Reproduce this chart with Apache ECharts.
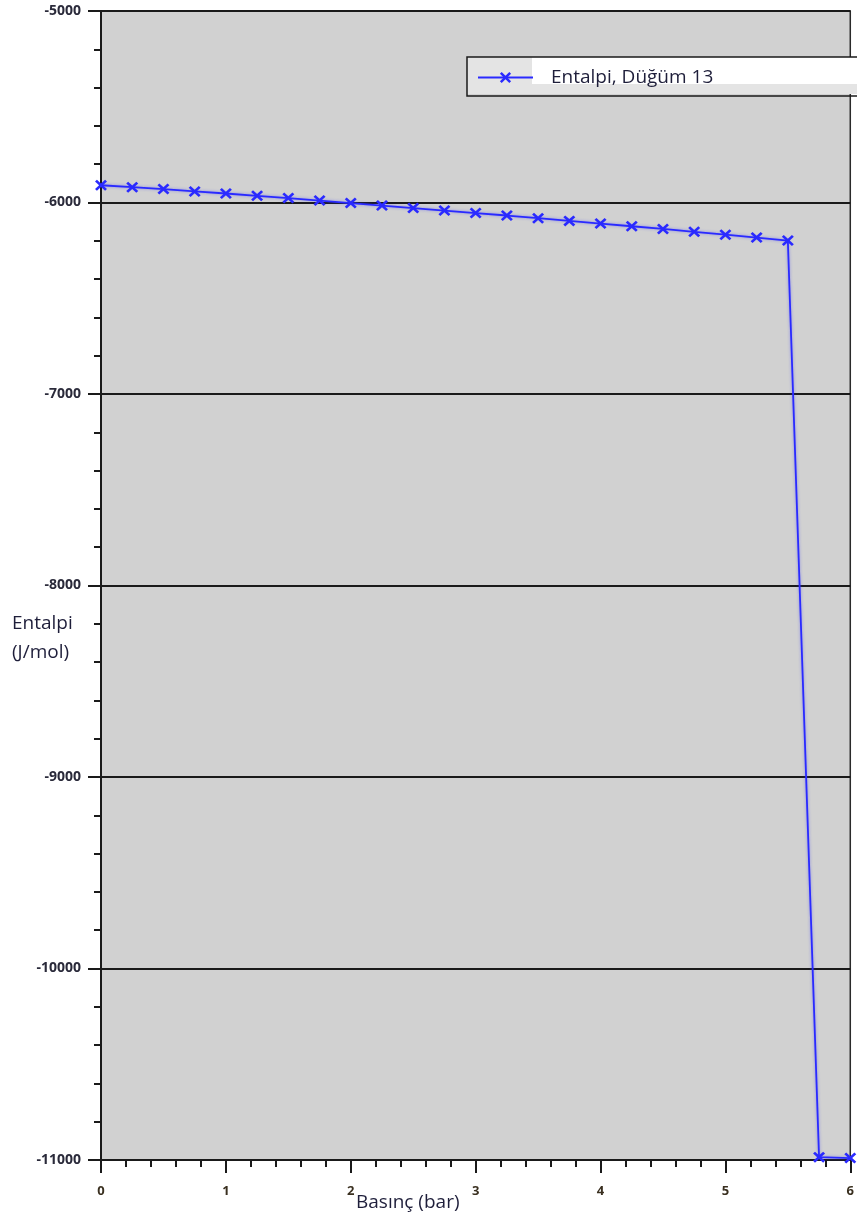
<!DOCTYPE html>
<html>
<head>
<meta charset="utf-8">
<script src="https://cdn.jsdelivr.net/npm/echarts@6/dist/echarts.min.js"></script>
<style>
  html, body { margin: 0; padding: 0; background: #ffffff; }
  #chart { width: 857px; height: 1225px; }
</style>
</head>
<body>
<div id="chart"></div>
<script>
// Pressure (bar) and enthalpy (J/mol) of node 13
const pressure = [0, 0.25, 0.5, 0.75, 1, 1.25, 1.5, 1.75, 2, 2.25, 2.5, 2.75,
                  3, 3.25, 3.5, 3.75, 4, 4.25, 4.5, 4.75, 5, 5.25, 5.5, 5.75, 6];
const enthalpy = [-5910, -5920, -5930, -5942, -5953, -5965, -5977, -5990, -6003,
                  -6016, -6029, -6042, -6055, -6068, -6082, -6096, -6110, -6124,
                  -6138, -6153, -6168, -6183, -6199, -10985, -10990];
const seriesName = 'Entalpi, Düğüm 13';
const xAxisTitle = 'Basınç (bar)';
const yAxisTitle = 'Entalpi\n(J/mol)';

const points = pressure.map((p, i) => [p, enthalpy[i]]);

// cross-shaped marker
const crossSymbol = 'path://M0,1.6 L1.6,0 L5,3.4 L8.4,0 L10,1.6 L6.6,5 L10,8.4 L8.4,10 L5,6.6 L1.6,10 L0,8.4 L3.4,5 Z';
const textColor = '#1e1e3a';
const fontFamily = '"Open Sans", "Noto Sans", sans-serif';

const chart = echarts.init(document.getElementById('chart'), null, { renderer: 'canvas' });

chart.setOption({
  backgroundColor: '#ffffff',
  animation: false,
  grid: {
    left: 101, right: 4, top: 11, bottom: 65,
    show: true,
    backgroundColor: '#d1d1d1',
    borderColor: '#2a2a2a',
    borderWidth: 1.5,
    containLabel: false
  },
  legend: {
    left: 467, top: 57,
    padding: [11, 260, 9, 10],
    itemWidth: 55, itemHeight: 14,
    backgroundColor: 'transparent',
    borderColor: '#1a1a1a', borderWidth: 1.5,
    borderRadius: 0,
    z: 10,
    textStyle: {
      color: textColor, fontFamily: fontFamily, fontSize: 19,
      padding: [8, 0, 0, 13]
    },
    data: [{ name: seriesName }]
  },
  graphic: [
    { type: 'rect', z: 5, shape: { x: 467, y: 57, width: 400, height: 37 },
      style: { fill: '#e4e4e4' } },
    { type: 'rect', z: 6, shape: { x: 532, y: 57, width: 330, height: 27 },
      style: { fill: '#ffffff' } },
    { type: 'text', z: 10, left: 12, top: 609,
      style: { text: yAxisTitle, fill: textColor, font: '19px ' + fontFamily, lineHeight: 29 } },
    { type: 'text', z: 10, left: 356, top: 1193,
      style: { text: xAxisTitle, fill: textColor, font: '19px ' + fontFamily } }
  ],
  xAxis: {
    type: 'value', min: 0, max: 6, interval: 1,
    axisLine: { show: true, onZero: false, lineStyle: { color: '#1a1a1a', width: 2 } },
    axisTick: { show: true, inside: false, length: 13, lineStyle: { color: '#1a1a1a', width: 2 } },
    minorTick: { show: true, splitNumber: 5, length: 7, lineStyle: { color: '#1a1a1a', width: 2 } },
    splitLine: { show: false },
    axisLabel: {
      margin: 25, color: '#3a3020', fontFamily: fontFamily, fontSize: 13, fontWeight: 'bold',
      formatter: (v) => String(v)
    }
  },
  yAxis: {
    type: 'value', min: -11000, max: -5000, interval: 1000,
    axisLine: { show: true, lineStyle: { color: '#1a1a1a', width: 2 } },
    axisTick: { show: true, inside: false, length: 13, lineStyle: { color: '#1a1a1a', width: 2 } },
    minorTick: { show: true, splitNumber: 5, length: 7, lineStyle: { color: '#1a1a1a', width: 2 } },
    splitLine: { show: true, lineStyle: { color: '#1a1a1a', width: 2 } },
    axisLabel: {
      margin: 20, color: '#2a2a3a', fontFamily: fontFamily, fontSize: 14, fontWeight: 'bold',
      formatter: (v) => String(v)
    }
  },
  series: [{
    name: seriesName,
    type: 'line',
    data: points,
    z: 3,
    symbol: crossSymbol,
    symbolSize: [12, 11],
    showAllSymbol: true,
    itemStyle: { color: '#2a2aff' },
    lineStyle: { color: '#2a2aff', width: 1.8, shadowColor: 'rgba(60,60,255,0.5)', shadowBlur: 3 },
    emphasis: { disabled: true }
  }]
});
</script>
</body>
</html>
